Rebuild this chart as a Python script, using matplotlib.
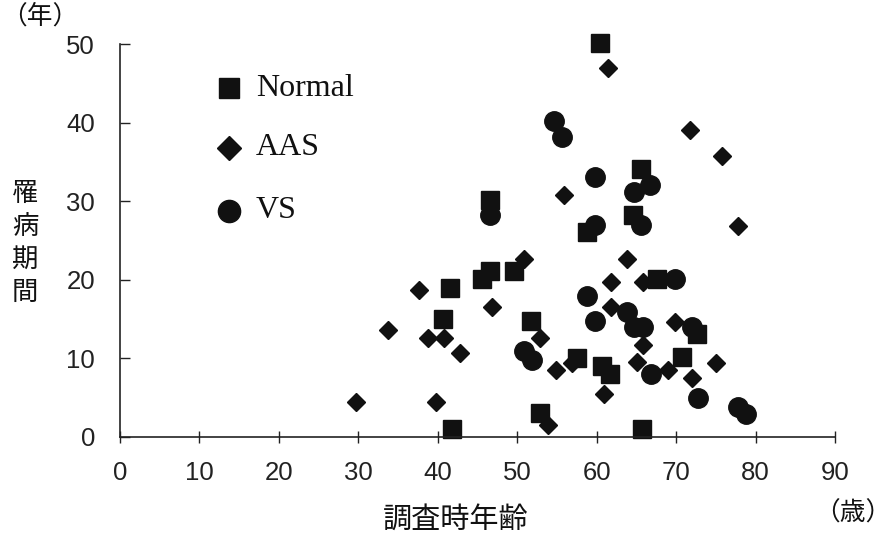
import matplotlib
matplotlib.use("Agg")
import matplotlib.pyplot as plt
from matplotlib import font_manager

# ---- data (age at survey, disease duration) ----
normal_x = [60.4, 65.6, 46.6, 58.8, 64.6, 41.5, 45.6, 46.6, 49.6, 40.7,
            51.7, 57.5, 60.7, 61.7, 67.6, 72.6, 70.7, 41.8, 65.7, 52.9]
normal_y = [50.1, 34.1, 30.1, 26.1, 28.2, 19.0, 20.1, 21.1, 21.1, 15.0,
            14.8, 10.0, 9.0, 8.0, 20.1, 13.1, 10.2, 1.0, 1.0, 3.0]

aas_x = [61.4, 71.8, 75.8, 77.8, 55.9, 50.9, 63.8, 61.8, 65.8, 61.8,
         46.8, 37.6, 33.7, 38.8, 40.8, 42.8, 29.7, 39.8, 52.9, 54.9,
         56.9, 53.9, 60.9, 65.1, 65.8, 69.9, 69.0, 72.0, 75.0]
aas_y = [47.0, 39.0, 35.8, 26.8, 30.8, 22.7, 22.7, 19.7, 19.7, 16.6,
         16.6, 18.7, 13.6, 12.6, 12.6, 10.7, 4.4, 4.4, 12.6, 8.5,
         9.4, 1.5, 5.5, 9.5, 11.7, 14.6, 8.5, 7.5, 9.4]

vs_x = [54.6, 55.6, 59.8, 64.7, 66.7, 46.6, 59.8, 65.6, 58.8, 59.8,
        63.8, 64.7, 65.8, 50.9, 51.9, 69.9, 72.0, 66.8, 72.8, 77.8, 78.8]
vs_y = [40.2, 38.2, 33.1, 31.2, 32.1, 28.2, 27.0, 27.0, 18.0, 14.8,
        15.9, 14.0, 14.0, 11.0, 9.8, 20.1, 14.0, 8.0, 4.9, 3.8, 2.9]

x_ticks = [0, 10, 20, 30, 40, 50, 60, 70, 80, 90]
y_ticks = [0, 10, 20, 30, 40, 50]
series_names = ["Normal", "AAS", "VS"]

CJK = ["Noto Sans CJK JP", "DejaVu Sans"]
installed = {f.name for f in font_manager.fontManager.ttflist}
SANS = "Liberation Sans Narrow" if "Liberation Sans Narrow" in installed else "Liberation Sans"
SERIF = "Liberation Serif"

fig = plt.figure(figsize=(8.93, 5.37), dpi=100)
W, H = 893, 537
ax = fig.add_axes([120 / W, 1 - 437 / H, (835 - 120) / W, (437 - 44) / H])

ax.plot(normal_x, normal_y, ls="none", marker="s", ms=12.5, color="#111111", clip_on=False)
ax.plot(aas_x, aas_y, ls="none", marker="D", ms=9.6, color="#111111", clip_on=False)
ax.plot(vs_x, vs_y, ls="none", marker="o", ms=14, color="#111111", clip_on=False)

ax.set_xlim(0, 90)
ax.set_ylim(0, 50)
ax.set_xticks(x_ticks)
ax.set_yticks(y_ticks)
ax.spines["top"].set_visible(False)
ax.spines["right"].set_visible(False)
for s in ("left", "bottom"):
    ax.spines[s].set_linewidth(1.2)
    ax.spines[s].set_color("#222222")
lab_size = 21 if SANS.endswith("Narrow") else 18.5
ax.tick_params(axis="y", direction="in", length=7, width=1.0, pad=18,
               labelsize=lab_size, colors="#222222")
ax.tick_params(axis="x", direction="inout", length=9, width=1.0, pad=13,
               labelsize=lab_size, colors="#222222")
for lab in ax.get_xticklabels() + ax.get_yticklabels():
    lab.set_fontfamily(SANS)

# legend drawn manually
leg_markers = [("s", 15, 88), ("D", 12.5, 148), ("o", 16, 211)]
for (mk, ms, py), name in zip(leg_markers, series_names):
    fig.lines.append(plt.Line2D([229 / W], [1 - py / H], marker=mk, ms=ms,
                                color="#111111", ls="none",
                                transform=fig.transFigure))
    fig.text(256 / W, 1 - py / H, name, fontsize=23, family=SERIF,
             va="center", ha="left", color="#111111")

# axis labels
fig.text(456 / W, 1 - 520 / H, "調査時年齢", fontsize=21, family=CJK,
         ha="center", va="center", color="#111111")
fig.text(891 / W, 1 - 514 / H, "（歳）", fontsize=18.5, family=CJK,
         ha="right", va="center", color="#111111")
fig.text(1 / W, 1 - 17 / H, "（年）", fontsize=18.5, family=CJK,
         ha="left", va="center", color="#111111")
fig.text(25 / W, 1 - 243 / H, "\n".join("罹病期間"), fontsize=19, family=CJK,
         ha="center", va="center", linespacing=1.3, color="#111111")

fig.savefig("out.png", dpi=100)
